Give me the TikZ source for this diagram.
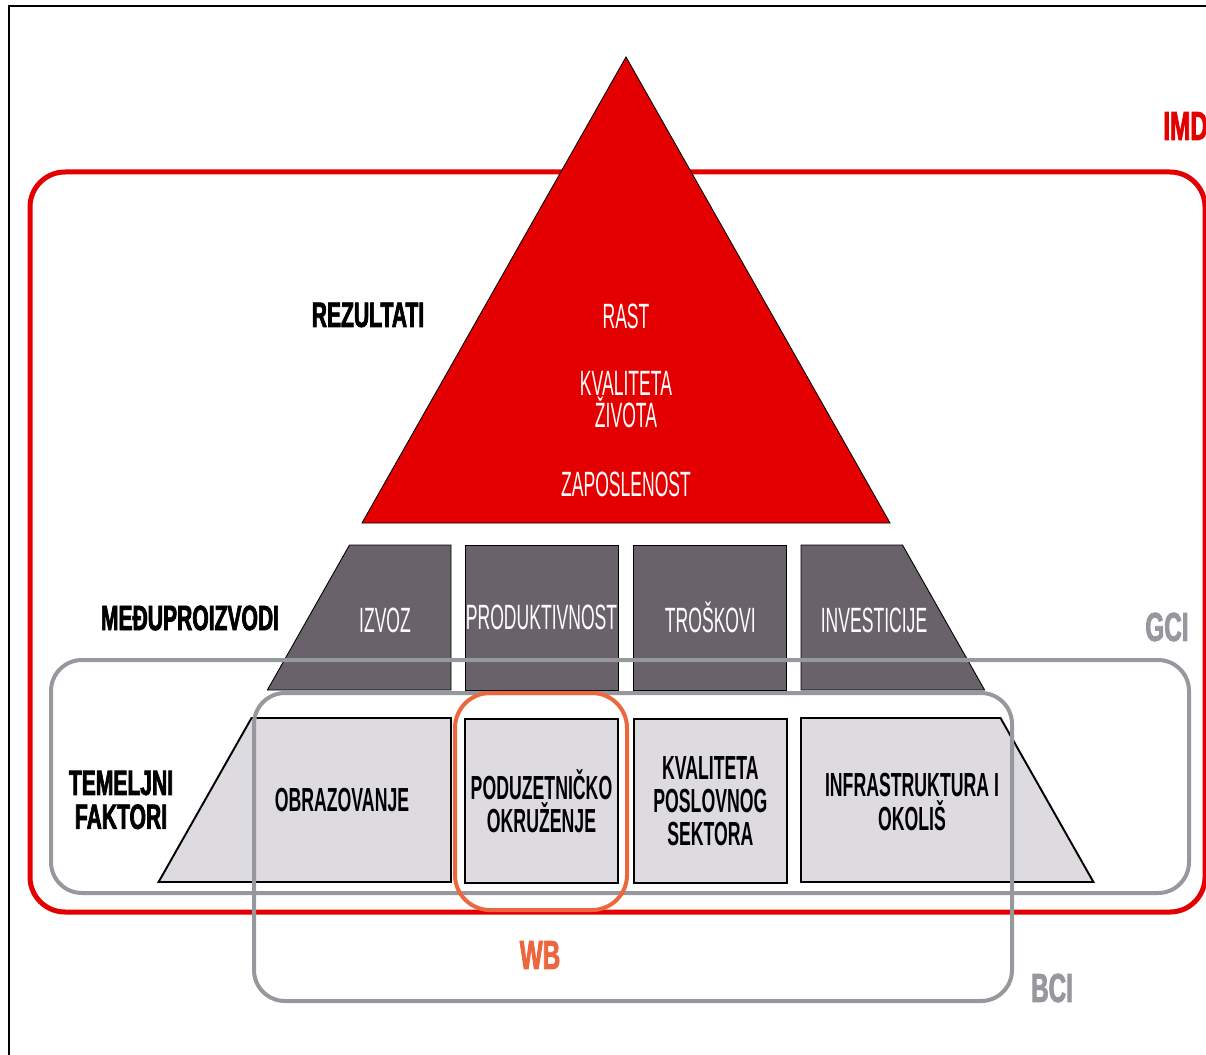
\documentclass[tikz,border=0pt]{standalone}
\usepackage{fontspec}
\setmainfont{Liberation Sans}
\newfontfamily\pyrfont[FakeStretch=0.5]{Liberation Sans}
\newfontfamily\lowfont[FakeStretch=0.53]{Liberation Sans}
\newfontfamily\heavyfont[FakeStretch=0.6,FakeBold=2]{Liberation Sans}
\usepackage{tikz}
\usepackage{xcolor}
\definecolor{pyrred}{RGB}{228,0,0}
\definecolor{darkbox}{RGB}{105,98,106}
\definecolor{lightbox}{RGB}{221,219,224}
\definecolor{boxgray}{RGB}{150,152,157}
\definecolor{wborange}{RGB}{236,102,62}
\usetikzlibrary{positioning, calc}
\tikzstyle{MidBox} = [
draw=black,
line width=0.5pt,
fill=darkbox,
text=white,
inner sep=0pt,
minimum width=3.06cm,
minimum height=2.9cm,
font=\pyrfont\fontsize{20}{18.2}\selectfont]
\tikzstyle{LowBox} = [
draw=black,
line width=1.1pt,
fill=lightbox,
text=black,
inner sep=0pt,
align=center,
minimum width=3.06cm,
minimum height=3.28cm,
font=\lowfont\bfseries\fontsize{19}{18.8}\selectfont]
\tikzstyle{WhiteText} = [
text=white,
inner sep=0pt,
align=center,
font=\pyrfont\fontsize{20}{18.2}\selectfont]
\tikzstyle{BlackText} = [
text=black,
inner sep=0pt,
align=center,
font=\lowfont\bfseries\fontsize{19}{18.8}\selectfont]
\tikzstyle{Heading} = [
inner sep=0pt,
align=center,
font=\heavyfont\bfseries\fontsize{20}{19.3}\selectfont]
\tikzstyle{Tag} = [
inner sep=0pt,
font=\heavyfont\bfseries\fontsize{23}{23}\selectfont]
\tikzstyle{Frame} = [rounded corners=0.62cm, line width=0.08cm]

\begin{document}
\begin{tikzpicture}[x=0.02cm, y=-0.02cm]
    \useasboundingbox (0,0) rectangle (1206,1054);
    \clip (0,0) rectangle (1206,1054);
    \fill[white] (0,0) rectangle (1206,1054);
    \draw[line width=0.04cm] (9,6) rectangle (1240,1090);

    \draw[Frame, pyrred, line width=0.1cm, rounded corners=0.7cm] (30,172) rectangle (1205,912);
    \node[Tag, text=pyrred, anchor=west] (imd) at (1163,126) {IMD};

    \draw[line width=0.5pt, fill=pyrred] (626,57) -- (890,523) -- (362,523) -- cycle;
    \node[WhiteText] (rast) at (626,316) {RAST};
    \node[WhiteText] (kvaliteta) at (626,400) {KVALITETA\\ŽIVOTA};
    \node[WhiteText] (zaposlenost) at (626,484) {ZAPOSLENOST};

    \draw[line width=0.5pt, fill=darkbox] (349.5,545) -- (451,545) -- (451,690) -- (267.4,690) -- cycle;
    \draw[line width=0.5pt, fill=darkbox] (801,545) -- (902.5,545) -- (984.6,690) -- (801,690) -- cycle;
    \node[WhiteText] (izvoz) at (385,620) {IZVOZ};
    \node[MidBox] (produkt) at (541.5,617.5) {PRODUKTIVNOST};
    \node[MidBox, right=0.3cm of produkt] (troskovi) {TROŠKOVI};
    \node[WhiteText] (invest) at (874,620) {INVESTICIJE};

    \draw[line width=1.1pt, fill=lightbox] (251.5,718) -- (451,718) -- (451,882) -- (158.6,882) -- cycle;
    \draw[line width=1.1pt, fill=lightbox] (801,718) -- (1000.5,718) -- (1093.4,882) -- (801,882) -- cycle;
    \node[BlackText] (obraz) at (342,800) {OBRAZOVANJE};
    \node[LowBox, below=0.56cm of produkt] (poduz) {PODUZETNIČKO\\OKRUŽENJE};
    \node[LowBox, below=0.56cm of troskovi] (poslovni) {KVALITETA\\POSLOVNOG\\SEKTORA};
    \node[BlackText] (infra) at (912,802) {INFRASTRUKTURA I\\OKOLIŠ};

    \node[Heading] (rez) at (368,315) {REZULTATI};
    \node[Heading] (medu) at (190,618) {MEĐUPROIZVODI};
    \node[Heading] (temelj) at (121,800) {TEMELJNI\\FAKTORI};

    \draw[Frame, boxgray] (51,660) rectangle (1189,893);
    \node[Tag, text=boxgray] (gci) at (1167,627) {GCI};
    \draw[Frame, boxgray] (254,693) rectangle (1012,1001);
    \node[Tag, text=boxgray] (bci) at (1052,988) {BCI};
    \draw[Frame, wborange, rounded corners=0.7cm] (455,693) rectangle (627,910);
    \node[Tag, text=wborange] (wb) at (540,955) {WB};
\end{tikzpicture}
\end{document}
